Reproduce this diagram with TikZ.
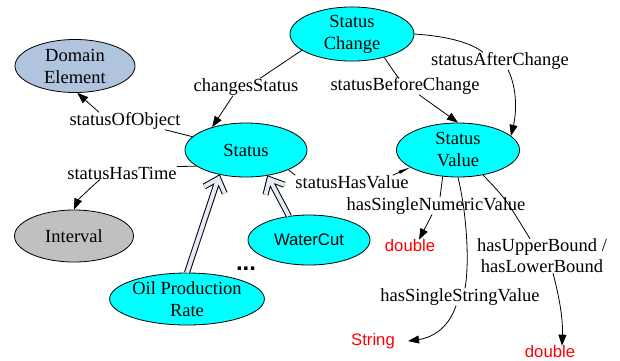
\documentclass[tikz,border=0pt]{standalone}
\usepackage{fontspec}
\setmainfont{Liberation Serif}
\newfontfamily\arial{Liberation Sans}
\usetikzlibrary{arrows.meta,shapes.geometric,calc}
\definecolor{clsfill}{HTML}{00FFFF}
\definecolor{domfill}{HTML}{B0C4DE}
\definecolor{intfill}{HTML}{C0C0C0}
\definecolor{isafill}{HTML}{E4EAF6}
\definecolor{littype}{HTML}{FF0000}
\tikzset{
  cls/.style={ellipse, draw, line width=0.8pt, fill=clsfill, inner sep=0pt,
    align=center, font=\fontsize{18.5}{22}\selectfont},
  lbl/.style={inner sep=0pt, align=center, font=\fontsize{18.5}{21}\selectfont},
  lit/.style={inner sep=0pt, text=littype, font=\arial\fontsize{16.7}{19}\selectfont},
  rel/.style={line width=0.8pt},
  relarr/.style={line width=0.8pt, -{Triangle[length=11pt,width=8pt]}},
  isa/.style={line width=1pt, double=isafill, double distance=4pt,
    line join=miter, miter limit=10}
}
\begin{document}
\begin{tikzpicture}[x=1pt,y=-1pt]
\useasboundingbox (0,0) rectangle (620,360);

% classes
\node[cls, minimum width=124pt, minimum height=52pt] (sc) at (352,34) {Status\\Change};
\node[cls, fill=domfill, minimum width=120pt, minimum height=53pt] (dom) at (75,66) {Domain\\Element};
\node[cls, minimum width=122pt, minimum height=54pt] (st) at (246,150) {Status};
\node[cls, minimum width=123pt, minimum height=54pt] (sv) at (458,150) {Status\\Value};
\node[cls, fill=intfill, minimum width=119pt, minimum height=52pt] (int) at (74,236) {Interval};
\node[cls, minimum width=122pt, minimum height=50pt, font=\arial\fontsize{16.7}{19}\selectfont] (wc) at (309,240) {WaterCut};
\node[cls, minimum width=151pt, minimum height=52pt] (opr) at (187,299) {Oil Production\\Rate};
\node[inner sep=0pt, anchor=base, font=\arial\bfseries\fontsize{24}{26}\selectfont] (more) at (246,270) {...};

% property labels
\node[lbl] (lcs) at (246,87) {changesStatus};
\node[lbl] (loo) at (125,121) {statusOfObject};
\node[lbl] (lht) at (122,173) {statusHasTime};
\node[lbl] (lbc) at (405,86) {statusBeforeChange};
\node[lbl] (lac) at (500,61) {statusAfterChange};
\node[lbl] (lhv) at (352,182) {statusHasValue};
\node[lbl] (lnv) at (436,206) {hasSingleNumericValue};
\node[lbl] (lub) at (542,256) {hasUpperBound /\\hasLowerBound};
\node[lbl] (lsv) at (460,297) {hasSingleStringValue};

% literal ranges
\node[lit] (d1) at (410,246) {double};
\node[lit] (str) at (373,341) {String};
\node[lit] (d2) at (550,352) {double};

% object properties
\draw[rel] (sc.198) -- ([xshift=14pt]lcs.north);
\draw[relarr] ([xshift=-13pt]lcs.south) -- (st.146);

\draw[rel] (st.166) -- ([xshift=-16pt]loo.south east);
\draw[relarr] ([xshift=-26pt]loo.north) -- (dom.275);

\draw[rel] (st.198) -- (lht.north east);
\draw[relarr] ([xshift=-22pt]lht.south) .. controls (88,190) and (78,200) .. (int.north);

\draw[rel] (sc.-36) .. controls (390,66) .. ([xshift=-7pt]lbc.north);
\draw[relarr] ([xshift=14pt]lbc.south) -- (sv.north);

\draw[rel] (sc.east) .. controls (445,36) and (470,42) .. ([xshift=-17pt]lac.north);
\draw[relarr] ([xshift=8pt]lac.south) .. controls (518,90) and (516,115) .. (sv.15);

\draw[rel] (st.-25) -- (lhv.north west);
\draw[line width=0.8pt, -{Triangle[length=12pt,width=3pt]}] ([xshift=-16pt]lhv.north east) -- (sv.200);

% datatype properties
\draw[rel] (sv.240) -- ([xshift=4pt]lnv.north);
\draw[relarr] ([xshift=-4pt]lnv.south) -- ([xshift=9pt]d1.north);

\draw[rel] (sv.south) .. controls (466,210) and (470,260) .. ([xshift=5pt]lsv.north);
\draw[relarr] ([xshift=-4pt]lsv.south) .. controls (448,330) and (430,338) .. ([xshift=13pt]str.east);

\draw[rel] (sv.-45) .. controls (505,198) .. ([xshift=-12pt]lub.north);
\draw[relarr] ([xshift=11pt]lub.south) .. controls (560,300) and (563,320) .. ([xshift=12pt]d2.north);

% subclasses: open double-line arrows, shaft and head stroked as one path
\coordinate (t1) at ($(st.223)!4pt!(opr.north)$);
\draw[isa] (opr.north) -- (t1)
  ($(t1)!16pt!42:(opr.north)$) -- (t1) -- ($(t1)!16pt!-42:(opr.north)$);
\coordinate (t2) at ($(st.-50)!4pt!(wc.130)$);
\draw[isa] (wc.130) -- (t2)
  ($(t2)!16pt!42:(wc.130)$) -- (t2) -- ($(t2)!16pt!-42:(wc.130)$);
\end{tikzpicture}
\end{document}
